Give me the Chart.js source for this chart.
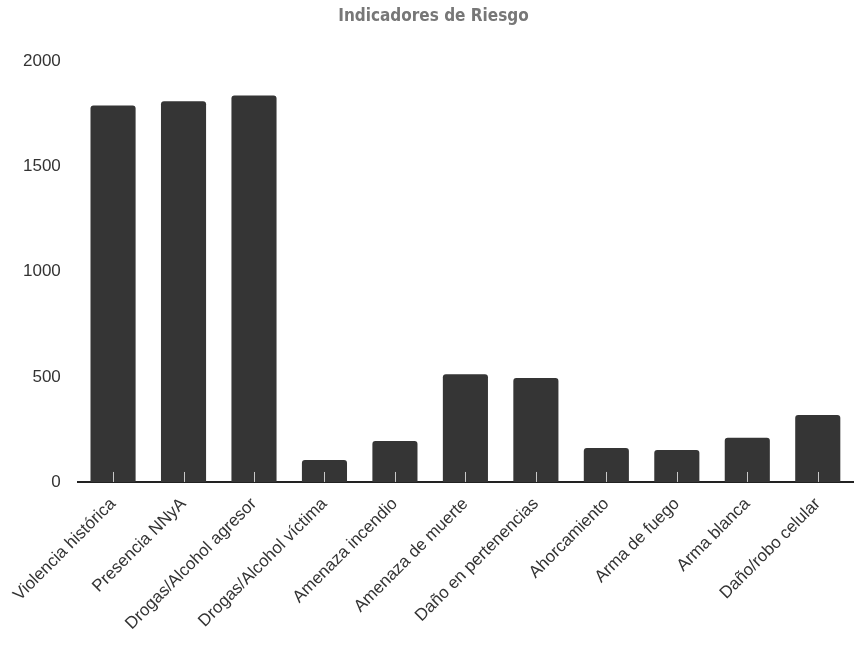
<!DOCTYPE html>
<html>
<head>
<meta charset="utf-8">
<script src="https://cdn.jsdelivr.net/npm/chart.js@4"></script>
<style>
  html, body { margin: 0; padding: 0; background: #fff; }
  #wrap { width: 856px; height: 646px; }
</style>
</head>
<body>
<div id="wrap"><canvas id="myChart"></canvas></div>
<script>
const labels = [
  "Violencia histórica",
  "Presencia NNyA",
  "Drogas/Alcohol agresor",
  "Drogas/Alcohol víctima",
  "Amenaza incendio",
  "Amenaza de muerte",
  "Daño en pertenencias",
  "Ahorcamiento",
  "Arma de fuego",
  "Arma blanca",
  "Daño/robo celular"
]
const valores = [1790, 1810, 1838, 105, 195, 512, 494, 162, 152, 210, 319]
const yTicks = [0, 500, 1000, 1500, 2000]

// marcas cortas grises sobre el eje x, encima de las barras
const tickMarks = {
  id: "tickMarks",
  afterDatasetsDraw(chart) {
    const x = chart.scales.x
    const y0 = chart.scales.y.getPixelForValue(0)
    const ctx = chart.ctx
    ctx.save()
    ctx.strokeStyle = "#c8c8c8"
    ctx.lineWidth = 1
    labels.forEach((l, i) => {
      const px = Math.round(x.getPixelForTick(i)) + 0.5
      ctx.beginPath()
      ctx.moveTo(px, y0 - 10)
      ctx.lineTo(px, y0)
      ctx.stroke()
    })
    ctx.restore()
  }
}

const data = {
  labels: labels,
  datasets: [
    {
      label: "Indicadores",
      data: valores,
      backgroundColor: "#353535",
      borderRadius: 3,
      borderSkipped: "bottom",
      barPercentage: 0.8,
      categoryPercentage: 0.8,
    },
  ],
}

const config = {
  type: "bar",
  data: data,
  options: {
    responsive: true,
    maintainAspectRatio: false,
    animation: false,
    layout: { padding: { left: 14, right: 3, top: 2, bottom: 8 } },
    plugins: {
      legend: { display: false },
      tooltip: { enabled: false },
      title: {
        display: true,
        text: "Indicadores de Riesgo",
        color: "#777777",
        font: { family: "DejaVu Sans Condensed", size: 17, weight: "bold" },
        padding: { top: 4, bottom: 35 }
      }
    },
    scales: {
      y: {
        min: 0,
        max: 2000,
        afterBuildTicks: (axis) => { axis.ticks = yTicks.map(v => ({ value: v })) },
        grid: { display: false },
        border: { display: false },
        ticks: {
          color: "#333333",
          padding: 9,
          font: { family: "Liberation Sans", size: 17 },
          callback: (v) => String(v)
        }
      },
      x: {
        grid: { display: false },
        border: { display: true, color: "#222222", width: 2 },
        ticks: {
          color: "#333333",
          maxRotation: 45,
          minRotation: 45,
          autoSkip: false,
          padding: 4,
          font: { family: "Liberation Sans", size: 17 }
        }
      }
    }
  },
  plugins: [tickMarks]
}

const MyChart = new Chart(
  document.getElementById("myChart"),
  config
)
</script>
</body>
</html>
